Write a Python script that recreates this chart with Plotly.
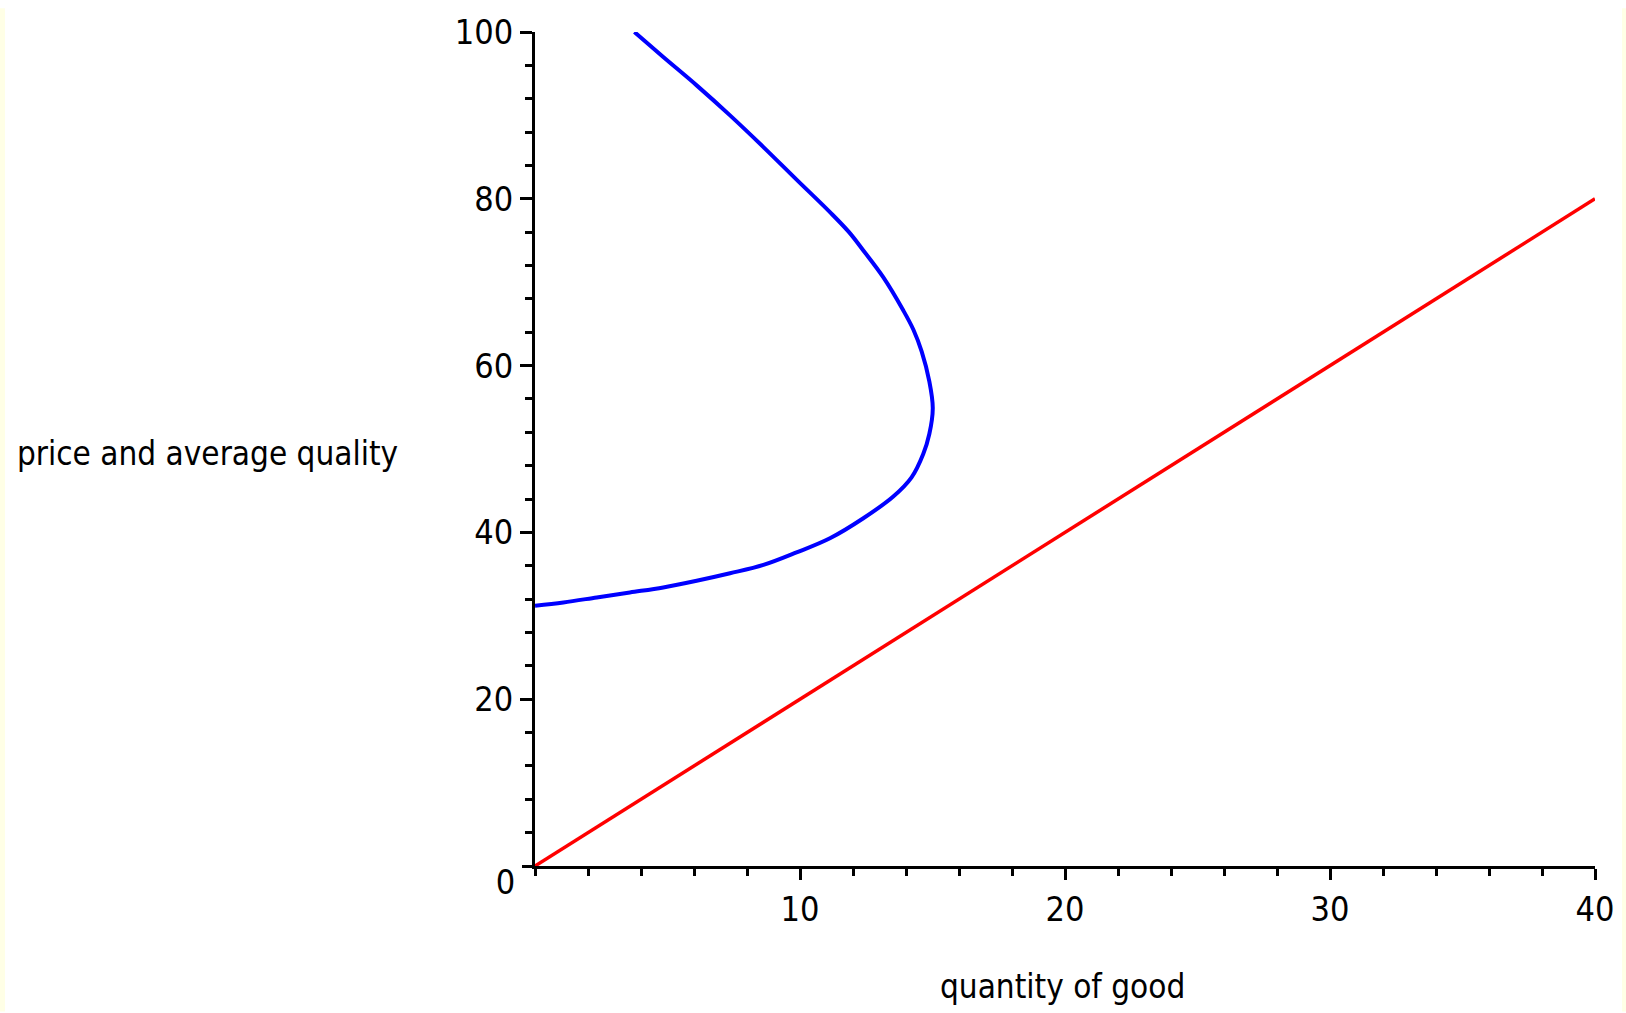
import plotly.graph_objects as go

# Data
supply_x = [0, 40]
supply_y = [0, 80]

demand_x = [0.0, 1.07, 2.33, 3.58, 4.84, 6.10, 7.36, 8.62, 9.87, 11.13, 12.39, 13.52, 14.21,
            14.65, 14.88, 15.01, 14.88, 14.59, 14.28, 13.90, 13.14, 12.39, 11.85, 11.13,
            9.87, 8.62, 7.36, 6.10, 4.84, 3.75]
demand_y = [31.2, 31.6, 32.2, 32.8, 33.4, 34.2, 35.1, 36.1, 37.6, 39.3, 41.7, 44.3, 46.6,
            49.4, 51.8, 54.9, 58.1, 61.7, 64.3, 66.6, 70.6, 73.8, 76.0, 78.4,
            82.3, 86.2, 90.0, 93.6, 97.0, 100.0]

x_ticks = [10, 20, 30, 40]
y_ticks = [20, 40, 60, 80, 100]
x_title = "quantity of good"
y_title = "price and average quality"

W, H = 1626, 1013
L, R, T, B = 535, 31, 24, 147
PW, PH = W - L - R, H - T - B
FONT = "DejaVu Sans Condensed, Liberation Sans, sans-serif"

fig = go.Figure()
fig.add_trace(go.Scatter(x=supply_x, y=supply_y, mode="lines",
                         line=dict(color="#ff0000", width=3.5), cliponaxis=False,
                         showlegend=False, hoverinfo="skip"))
fig.add_trace(go.Scatter(x=demand_x, y=demand_y, mode="lines",
                         line=dict(color="#0000ff", width=4, shape="spline", smoothing=1.0),
                         cliponaxis=False, showlegend=False, hoverinfo="skip"))
# invisible trace to activate the secondary y axis holding the shifted "0" label
fig.add_trace(go.Scatter(x=[0], y=[0], yaxis="y2", mode="markers",
                         marker=dict(opacity=0), showlegend=False, hoverinfo="skip"))

fig.update_layout(
    width=W, height=H,
    margin=dict(l=L, r=R, t=T, b=B),
    paper_bgcolor="white", plot_bgcolor="white",
    font=dict(family=FONT, size=34, color="black"),
    xaxis=dict(range=[0, 40], tickvals=x_ticks, ticktext=[str(v) for v in x_ticks],
               showgrid=False, zeroline=False, showline=True, linecolor="black", linewidth=3,
               ticks="outside", ticklen=11, tickwidth=3, tickcolor="black",
               tickfont=dict(family=FONT, size=34),
               minor=dict(tick0=0, dtick=2, ticks="outside", ticklen=7, tickwidth=3,
                          tickcolor="black", showgrid=False),
               fixedrange=True),
    yaxis=dict(range=[0, 100], tickvals=y_ticks, ticktext=[str(v) for v in y_ticks],
               showgrid=False, zeroline=False, showline=True, linecolor="black", linewidth=3,
               ticks="outside", ticklen=12, tickwidth=3, tickcolor="black",
               tickfont=dict(family=FONT, size=34),
               minor=dict(tick0=0, dtick=4, ticks="outside", ticklen=7, tickwidth=3,
                          tickcolor="black", showgrid=False),
               fixedrange=True),
    yaxis2=dict(range=[0, 100], overlaying="y", side="left", tickvals=[0], ticktext=["0"],
                showgrid=False, zeroline=False, showline=False, ticks="outside",
                ticklen=12, tickwidth=3, tickcolor="black", ticklabelshift=16,
                tickfont=dict(family=FONT, size=34), fixedrange=True),
    annotations=[
        dict(text=y_title, xref="paper", yref="paper", x=(15 - L) / PW, y=(866 - 450) / PH,
             xanchor="left", yanchor="middle", showarrow=False,
             font=dict(family=FONT, size=33, color="black")),
        dict(text=x_title, xref="paper", yref="paper", x=(1062.5 - L) / PW, y=(866 - 988) / PH,
             xanchor="center", yanchor="middle", showarrow=False,
             font=dict(family=FONT, size=33, color="black")),
    ],
    shapes=[
        dict(type="rect", xref="paper", yref="paper", x0=-L / PW, x1=(5 - L) / PW,
             y0=-B / PH, y1=1 + T / PH, fillcolor="#ffffe6", line=dict(width=0), layer="below"),
        dict(type="rect", xref="paper", yref="paper", x0=(1622 - L) / PW, x1=(1626 - L) / PW,
             y0=-B / PH, y1=1 + T / PH, fillcolor="#ffffe6", line=dict(width=0), layer="below"),
    ],
)

fig.write_html("out.html", config={"displayModeBar": False},
               post_script="document.body.style.margin='0';document.body.style.overflow='hidden';")
